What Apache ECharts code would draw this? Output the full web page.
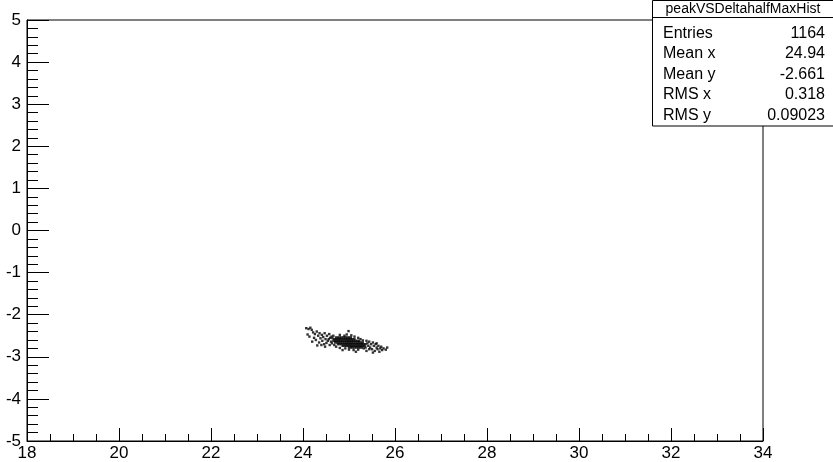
<!DOCTYPE html>
<html>
<head>
<meta charset="utf-8">
<script src="https://cdn.jsdelivr.net/npm/echarts@6/dist/echarts.min.js"></script>
<style>
html,body{margin:0;padding:0;background:#fff;}
#c{width:833px;height:462px;}
</style>
</head>
<body>
<div id="c"></div>
<script>
// Axis ranges / ticks
const xRange = [18, 34];
const yRange = [-5, 5];
const xTickStep = 2;
const yTickStep = 1;

// Stats box
const histName = 'peakVSDeltahalfMaxHist';
const statLabels = ['Entries', 'Mean x', 'Mean y', 'RMS x', 'RMS y'];
const statValues = ['1164', '24.94', '-2.661', '0.318', '0.09023'];

// Dense core of the scatter
const coreRowY = [-2.54, -2.58, -2.62, -2.66, -2.70, -2.74, -2.78];
const coreRowX = [
  [24.72,24.76,24.80,24.84,24.88,24.92,24.96,25.00,25.04],
  [24.68,24.72,24.76,24.80,24.84,24.88,24.92,24.96,25.00,25.04,25.08,25.12],
  [24.66,24.70,24.74,24.78,24.82,24.86,24.90,24.94,24.98,25.02,25.06,25.10,25.14,25.18,25.22],
  [24.70,24.74,24.78,24.82,24.86,24.90,24.94,24.98,25.02,25.06,25.10,25.14,25.18,25.22,25.26,25.30],
  [24.76,24.80,24.84,24.88,24.92,24.96,25.00,25.04,25.08,25.12,25.16,25.20,25.24,25.28,25.32,25.36],
  [24.86,24.90,24.94,24.98,25.02,25.06,25.10,25.14,25.18,25.22,25.26,25.30,25.34],
  [25.00,25.04,25.08,25.12,25.16,25.20,25.24,25.28]
];

// Sparse points around the core
const sparsePoints = [
  [24.07,-2.32],[24.12,-2.34],[24.16,-2.31],[24.19,-2.36],[24.10,-2.47],[24.14,-2.52],[24.22,-2.42],
  [24.26,-2.46],[24.24,-2.55],[24.30,-2.40],[24.33,-2.50],[24.28,-2.60],[24.36,-2.44],[24.38,-2.56],
  [24.35,-2.66],[24.41,-2.48],[24.44,-2.53],[24.42,-2.62],[24.47,-2.44],[24.49,-2.58],[24.46,-2.70],
  [24.52,-2.50],[24.54,-2.62],[24.51,-2.67],[24.57,-2.46],[24.59,-2.55],[24.56,-2.58],[24.61,-2.64],
  [24.62,-2.52],[24.58,-2.72],[24.64,-2.56],[24.63,-2.68],[24.66,-2.50],[24.68,-2.72],[24.20,-2.64],
  [24.31,-2.73],[24.40,-2.72],[24.48,-2.76],
  [24.99,-2.39],[24.80,-2.48],[24.90,-2.50],[25.05,-2.49],[25.12,-2.52],[25.20,-2.55],[25.25,-2.58],
  [25.30,-2.61],[24.95,-2.47],
  [24.72,-2.76],[24.80,-2.79],[24.92,-2.80],[25.00,-2.83],[25.10,-2.84],[25.20,-2.83],[25.32,-2.80],
  [24.86,-2.84],[25.15,-2.88],
  [25.38,-2.62],[25.40,-2.68],[25.42,-2.74],[25.44,-2.64],[25.46,-2.78],[25.48,-2.70],[25.50,-2.82],
  [25.52,-2.66],[25.54,-2.74],[25.56,-2.86],[25.58,-2.70],[25.60,-2.78],[25.62,-2.82],[25.64,-2.74],
  [25.66,-2.88],[25.68,-2.80],[25.70,-2.76],[25.72,-2.84],[25.75,-2.80],[25.80,-2.83],[25.83,-2.78],
  [25.44,-2.82],[25.52,-2.90],[25.60,-2.68],[25.38,-2.86],[25.36,-2.78]
];

const points = [];
coreRowY.forEach((y, i) => coreRowX[i].forEach(x => points.push([x, y])));
sparsePoints.forEach(p => points.push(p));

const FONT = 'Liberation Sans, Arial, Helvetica, sans-serif';
const chart = echarts.init(document.getElementById('c'), null, {renderer: 'canvas'});

const boxX = 652.5, boxY = 0.5, boxW = 182, rowH = 20.5, titleH = 17;
const graphics = [];
graphics.push({type: 'rect', z: 100,
  shape: {x: boxX, y: boxY, width: boxW, height: titleH + 16.5 + rowH * 4 + 10},
  style: {fill: '#fff', stroke: '#000', lineWidth: 1}});
graphics.push({type: 'line', z: 101,
  shape: {x1: boxX, y1: titleH + 0.5, x2: boxX + boxW, y2: titleH + 0.5},
  style: {stroke: '#000', lineWidth: 1}});
graphics.push({type: 'text', z: 102, x: 743, y: 9,
  style: {text: histName, font: '14px ' + FONT, fill: '#000', textAlign: 'center', textVerticalAlign: 'middle'}});
statLabels.forEach((lab, i) => {
  const cy = titleH + 16.5 + i * rowH;
  graphics.push({type: 'text', z: 102, x: 663, y: cy,
    style: {text: lab, font: '16px ' + FONT, fill: '#000', textAlign: 'left', textVerticalAlign: 'middle'}});
  graphics.push({type: 'text', z: 102, x: 825, y: cy,
    style: {text: statValues[i], font: '16px ' + FONT, fill: '#000', textAlign: 'right', textVerticalAlign: 'middle'}});
});

chart.setOption({
  backgroundColor: '#fff',
  animation: false,
  grid: {left: 27, top: 20, width: 736, height: 421, show: true, borderColor: '#000', borderWidth: 1, backgroundColor: 'transparent'},
  xAxis: {
    type: 'value', min: xRange[0], max: xRange[1], interval: xTickStep,
    axisLine: {show: true, onZero: false, lineStyle: {color: '#000', width: 1}},
    axisTick: {show: true, inside: true, length: 13, lineStyle: {color: '#000', width: 1}},
    minorTick: {show: true, splitNumber: 4, length: 7, lineStyle: {color: '#000', width: 1}},
    splitLine: {show: false},
    axisLabel: {color: '#000', fontSize: 17, fontFamily: FONT, margin: 4, showMinLabel: true, showMaxLabel: true}
  },
  yAxis: {
    type: 'value', min: yRange[0], max: yRange[1], interval: yTickStep,
    axisLine: {show: true, onZero: false, lineStyle: {color: '#000', width: 1}},
    axisTick: {show: true, inside: true, length: 22, lineStyle: {color: '#000', width: 1}},
    minorTick: {show: true, splitNumber: 5, length: 11, lineStyle: {color: '#000', width: 1}},
    splitLine: {show: false},
    axisLabel: {color: '#000', fontSize: 17, fontFamily: FONT, margin: 6, showMinLabel: true, showMaxLabel: true}
  },
  series: [{
    type: 'scatter', data: points, symbol: 'rect', symbolSize: 2.4,
    itemStyle: {color: '#000'}, silent: true
  }],
  graphic: graphics
});
</script>
</body>
</html>
